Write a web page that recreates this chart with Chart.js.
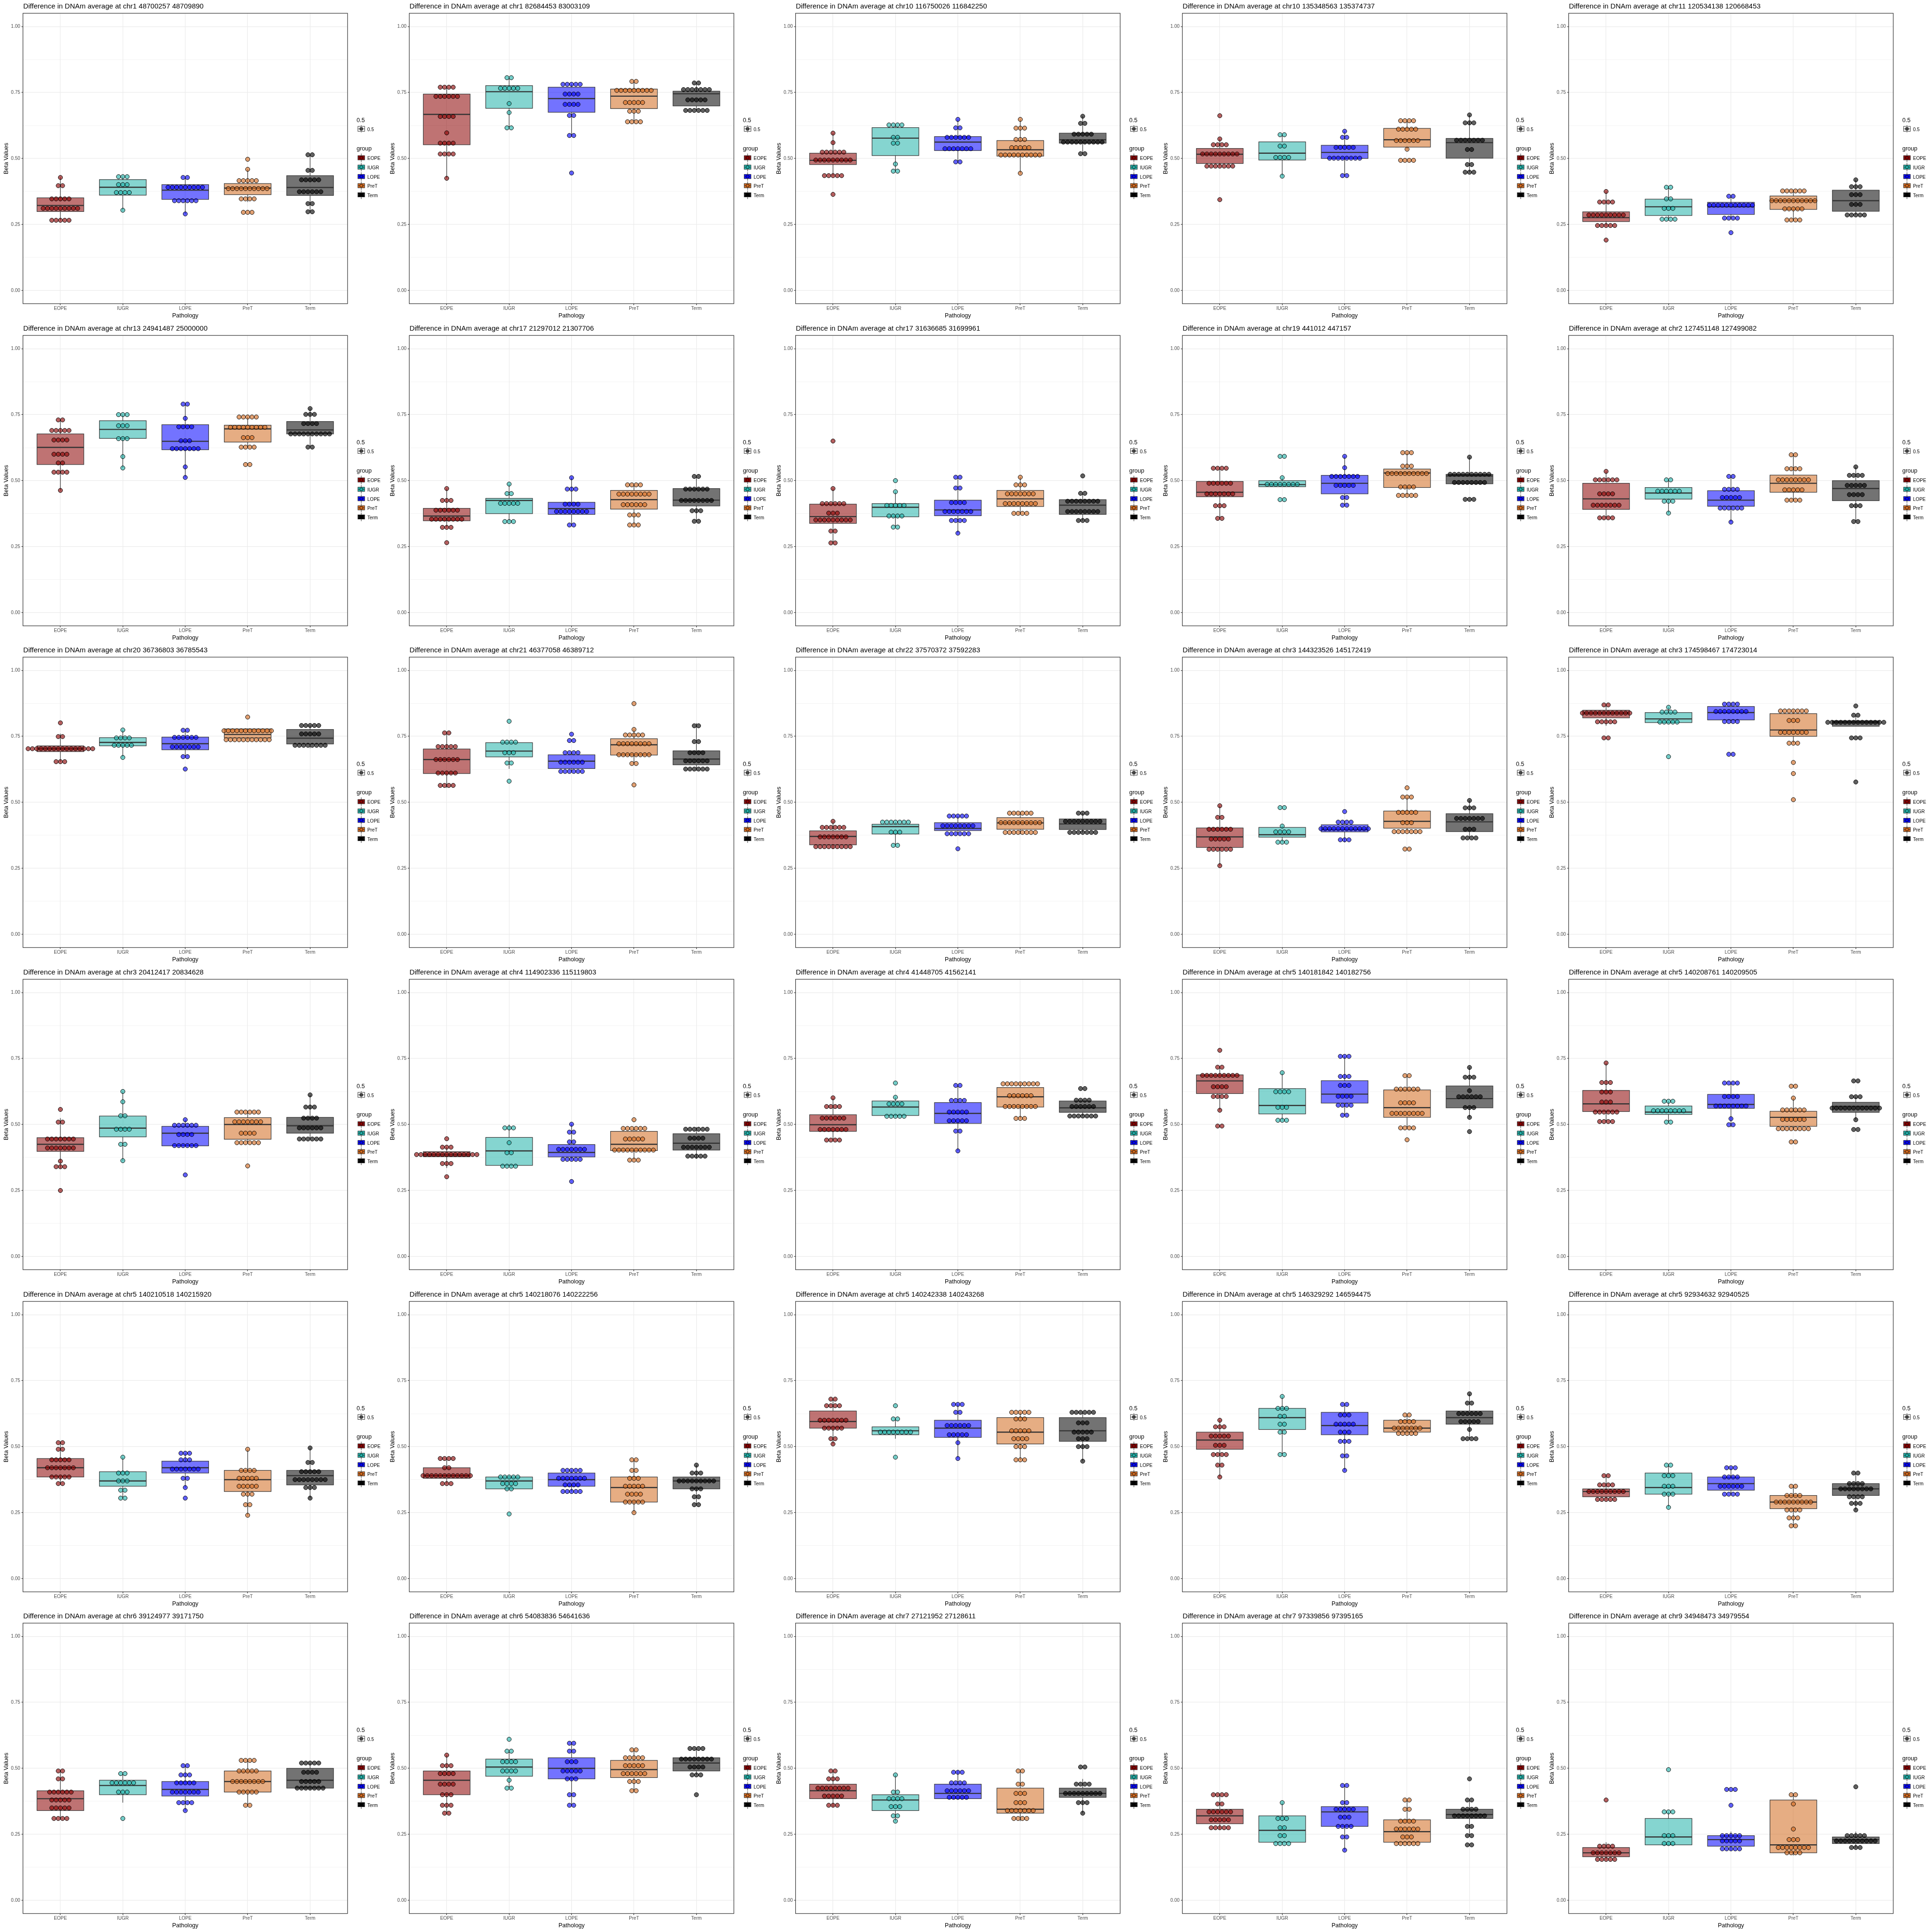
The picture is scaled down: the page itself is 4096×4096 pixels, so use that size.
<!DOCTYPE html>
<html><head><meta charset="utf-8">
<script src="https://cdn.jsdelivr.net/npm/chart.js@4.4.0/dist/chart.umd.min.js"></script>
<style>
html,body{margin:0;padding:0;background:#fff;}
#wrap{position:relative;width:4096px;height:4096px;overflow:hidden;background:#fff;}
canvas{position:absolute;}
</style></head><body><div id="wrap"></div>
<script>
const titles = [
"Difference in DNAm average at chr1 48700257 48709890",
"Difference in DNAm average at chr1 82684453 83003109",
"Difference in DNAm average at chr10 116750026 116842250",
"Difference in DNAm average at chr10 135348563 135374737",
"Difference in DNAm average at chr11 120534138 120668453",
"Difference in DNAm average at chr13 24941487 25000000",
"Difference in DNAm average at chr17 21297012 21307706",
"Difference in DNAm average at chr17 31636685 31699961",
"Difference in DNAm average at chr19 441012 447157",
"Difference in DNAm average at chr2 127451148 127499082",
"Difference in DNAm average at chr20 36736803 36785543",
"Difference in DNAm average at chr21 46377058 46389712",
"Difference in DNAm average at chr22 37570372 37592283",
"Difference in DNAm average at chr3 144323526 145172419",
"Difference in DNAm average at chr3 174598467 174723014",
"Difference in DNAm average at chr3 20412417 20834628",
"Difference in DNAm average at chr4 114902336 115119803",
"Difference in DNAm average at chr4 41448705 41562141",
"Difference in DNAm average at chr5 140181842 140182756",
"Difference in DNAm average at chr5 140208761 140209505",
"Difference in DNAm average at chr5 140210518 140215920",
"Difference in DNAm average at chr5 140218076 140222256",
"Difference in DNAm average at chr5 140242338 140243268",
"Difference in DNAm average at chr5 146329292 146594475",
"Difference in DNAm average at chr5 92934632 92940525",
"Difference in DNAm average at chr6 39124977 39171750",
"Difference in DNAm average at chr6 54083836 54641636",
"Difference in DNAm average at chr7 27121952 27128611",
"Difference in DNAm average at chr7 97339856 97395165",
"Difference in DNAm average at chr9 34948473 34979554"
];
const groups = ["EOPE","IUGR","LOPE","PreT","Term"];
const xTitle = "Pathology";
const yTitle = "Beta Values";
const alphaLegendTitle = "0.5";
const alphaLegendLabel = "0.5";
const groupLegendTitle = "group";
const yTickValues = [0,0.125,0.25,0.375,0.5,0.625,0.75,0.875,1];
const yTickLabels = ["0.00","","0.25","","0.50","","0.75","","1.00"];

// box statistics per panel: [lower whisker, Q1, median, Q3, upper whisker]
const boxEOPE = [
[0.266,0.299,0.322,0.351,0.428],[0.425,0.552,0.667,0.744,0.770],[0.435,0.477,0.493,0.520,0.596],[0.471,0.481,0.516,0.538,0.574],[0.246,0.261,0.276,0.298,0.375],
[0.463,0.561,0.626,0.677,0.730],[0.323,0.348,0.366,0.395,0.470],[0.264,0.338,0.364,0.411,0.470],[0.357,0.439,0.456,0.497,0.547],[0.359,0.391,0.431,0.490,0.535],
[0.654,0.692,0.703,0.714,0.760],[0.555,0.609,0.662,0.702,0.763],[0.325,0.339,0.371,0.392,0.428],[0.260,0.329,0.369,0.403,0.487],[0.790,0.820,0.838,0.849,0.869],
[0.335,0.398,0.425,0.450,0.524],[0.335,0.378,0.385,0.397,0.414],[0.440,0.474,0.499,0.537,0.600],[0.554,0.617,0.665,0.688,0.717],[0.511,0.549,0.578,0.629,0.733],
[0.360,0.385,0.420,0.455,0.515],[0.360,0.380,0.390,0.420,0.455],[0.510,0.570,0.595,0.635,0.680],[0.385,0.490,0.525,0.555,0.600],[0.300,0.310,0.330,0.340,0.390],
[0.310,0.340,0.385,0.415,0.490],[0.330,0.400,0.455,0.490,0.550],[0.355,0.385,0.415,0.440,0.490],[0.270,0.290,0.320,0.345,0.400],[0.155,0.165,0.180,0.200,0.220]];
const boxIUGR = [
[0.304,0.361,0.391,0.420,0.431],[0.616,0.690,0.753,0.776,0.806],[0.452,0.511,0.577,0.617,0.627],[0.433,0.494,0.520,0.563,0.590],[0.265,0.284,0.317,0.346,0.391],
[0.548,0.660,0.694,0.727,0.750],[0.345,0.375,0.425,0.433,0.487],[0.324,0.363,0.399,0.413,0.458],[0.477,0.477,0.485,0.500,0.511],[0.377,0.430,0.453,0.474,0.503],
[0.670,0.714,0.727,0.745,0.774],[0.627,0.672,0.694,0.726,0.728],[0.337,0.380,0.408,0.417,0.425],[0.349,0.368,0.377,0.405,0.410],[0.800,0.802,0.816,0.840,0.860],
[0.363,0.453,0.486,0.532,0.625],[0.340,0.345,0.400,0.451,0.500],[0.531,0.534,0.566,0.589,0.603],[0.516,0.540,0.572,0.636,0.696],[0.509,0.538,0.547,0.570,0.588],
[0.305,0.350,0.370,0.405,0.460],[0.340,0.340,0.370,0.385,0.390],[0.530,0.545,0.560,0.575,0.605],[0.470,0.565,0.610,0.645,0.690],[0.270,0.320,0.345,0.400,0.430],
[0.370,0.400,0.435,0.455,0.480],[0.425,0.470,0.505,0.535,0.565],[0.300,0.340,0.380,0.400,0.475],[0.215,0.220,0.265,0.320,0.370],[0.210,0.210,0.240,0.310,0.335]];
const boxLOPE = [
[0.290,0.345,0.380,0.401,0.428],[0.587,0.675,0.727,0.770,0.781],[0.487,0.530,0.562,0.583,0.648],[0.435,0.500,0.523,0.550,0.603],[0.274,0.288,0.317,0.334,0.357],
[0.512,0.617,0.649,0.712,0.790],[0.332,0.372,0.394,0.418,0.511],[0.301,0.367,0.389,0.426,0.513],[0.407,0.450,0.490,0.520,0.592],[0.343,0.403,0.426,0.462,0.516],
[0.673,0.699,0.722,0.747,0.773],[0.617,0.628,0.656,0.680,0.688],[0.381,0.393,0.401,0.423,0.448],[0.348,0.388,0.397,0.415,0.430],[0.800,0.812,0.840,0.863,0.872],
[0.419,0.419,0.467,0.493,0.518],[0.368,0.377,0.394,0.424,0.501],[0.400,0.504,0.542,0.583,0.648],[0.535,0.581,0.615,0.666,0.758],[0.490,0.561,0.576,0.614,0.657],
[0.345,0.400,0.420,0.445,0.475],[0.330,0.350,0.375,0.400,0.410],[0.455,0.535,0.570,0.600,0.660],[0.410,0.545,0.580,0.630,0.660],[0.320,0.335,0.360,0.385,0.420],
[0.340,0.395,0.420,0.450,0.510],[0.360,0.460,0.500,0.540,0.595],[0.385,0.385,0.405,0.440,0.490],[0.190,0.280,0.335,0.355,0.435],[0.190,0.205,0.230,0.245,0.260]];
const boxPreT = [
[0.335,0.363,0.388,0.405,0.459],[0.639,0.689,0.736,0.763,0.792],[0.444,0.509,0.533,0.568,0.648],[0.535,0.543,0.571,0.614,0.643],[0.267,0.307,0.340,0.358,0.377],
[0.627,0.646,0.696,0.710,0.741],[0.332,0.392,0.428,0.463,0.484],[0.376,0.402,0.431,0.463,0.513],[0.444,0.474,0.529,0.544,0.606],[0.426,0.456,0.490,0.521,0.598],
[0.737,0.744,0.757,0.778,0.780],[0.647,0.679,0.718,0.741,0.776],[0.380,0.398,0.422,0.442,0.460],[0.389,0.402,0.428,0.467,0.520],[0.724,0.750,0.774,0.836,0.846],
[0.431,0.444,0.500,0.526,0.547],[0.365,0.401,0.425,0.474,0.485],[0.523,0.566,0.605,0.640,0.660],[0.487,0.527,0.564,0.631,0.685],[0.484,0.493,0.527,0.550,0.600],
[0.240,0.330,0.375,0.410,0.490],[0.250,0.290,0.345,0.385,0.450],[0.450,0.510,0.555,0.610,0.630],[0.550,0.555,0.570,0.600,0.620],[0.200,0.265,0.290,0.315,0.350],
[0.360,0.410,0.450,0.490,0.530],[0.415,0.465,0.495,0.530,0.570],[0.300,0.330,0.345,0.425,0.490],[0.210,0.220,0.260,0.305,0.380],[0.170,0.180,0.210,0.380,0.400]];
const boxTerm = [
[0.298,0.360,0.390,0.435,0.514],[0.682,0.699,0.745,0.755,0.786],[0.518,0.558,0.571,0.596,0.660],[0.448,0.501,0.560,0.576,0.665],[0.286,0.300,0.340,0.380,0.419],
[0.627,0.677,0.692,0.724,0.773],[0.346,0.404,0.426,0.470,0.516],[0.349,0.372,0.407,0.428,0.452],[0.488,0.488,0.518,0.524,0.589],[0.345,0.424,0.470,0.500,0.552],
[0.705,0.721,0.743,0.776,0.791],[0.620,0.642,0.664,0.695,0.800],[0.386,0.397,0.418,0.437,0.459],[0.365,0.389,0.426,0.457,0.507],[0.788,0.788,0.804,0.809,0.830],
[0.445,0.467,0.495,0.527,0.612],[0.370,0.403,0.429,0.465,0.490],[0.532,0.546,0.563,0.589,0.592],[0.527,0.563,0.598,0.646,0.716],[0.518,0.546,0.569,0.584,0.605],
[0.305,0.355,0.390,0.410,0.495],[0.280,0.340,0.370,0.385,0.430],[0.445,0.520,0.560,0.610,0.630],[0.530,0.585,0.610,0.635,0.700],[0.260,0.315,0.340,0.360,0.400],
[0.420,0.425,0.455,0.500,0.520],[0.475,0.490,0.520,0.540,0.575],[0.330,0.390,0.405,0.425,0.460],[0.245,0.310,0.325,0.345,0.380],[0.200,0.215,0.230,0.240,0.260]];

// dot-plot stacks per panel: "value:count"
const dotsEOPE = [
"0.428:1 0.397:2 0.347:5 0.311:9 0.266:5","0.770:4 0.735:6 0.659:4 0.597:1 0.558:4 0.517:4 0.425:1","0.596:1 0.560:1 0.524:6 0.494:9 0.435:5 0.364:1","0.662:1 0.574:1 0.552:4 0.517:9 0.471:7 0.344:1","0.375:1 0.335:4 0.286:9 0.246:5 0.191:1",
"0.730:2 0.690:5 0.654:4 0.600:4 0.567:2 0.532:4 0.463:1","0.470:1 0.425:3 0.388:6 0.354:8 0.323:3 0.265:1","0.650:1 0.470:1 0.413:6 0.377:3 0.351:9 0.309:2 0.264:2","0.547:4 0.490:6 0.450:7 0.405:3 0.357:2","0.535:1 0.503:6 0.450:4 0.407:7 0.359:4",
"0.801:1 0.749:2 0.703:16 0.654:3","0.763:2 0.711:5 0.662:6 0.611:5 0.564:4","0.428:1 0.405:6 0.369:7 0.332:9","0.487:1 0.443:2 0.398:6 0.361:5 0.322:6 0.260:1","0.869:2 0.838:12 0.805:5 0.744:2",
"0.557:1 0.509:2 0.445:7 0.411:7 0.361:1 0.340:3 0.250:1","0.446:1 0.414:3 0.386:15 0.352:3 0.302:1","0.601:1 0.568:4 0.524:6 0.481:7 0.441:4","0.781:1 0.717:2 0.686:9 0.643:4 0.606:4 0.554:1 0.494:2","0.733:1 0.659:3 0.623:3 0.585:3 0.547:6 0.511:4",
"0.515:2 0.490:2 0.450:5 0.420:7 0.385:5 0.360:2","0.455:4 0.420:2 0.390:12 0.360:3","0.680:2 0.655:4 0.600:7 0.570:5 0.530:2 0.510:1","0.600:1 0.575:3 0.540:5 0.505:3 0.470:4 0.430:2 0.385:1","0.390:2 0.355:4 0.330:9 0.300:5",
"0.490:2 0.460:2 0.410:6 0.380:5 0.350:5 0.310:4","0.550:1 0.510:3 0.480:4 0.440:4 0.400:3 0.360:3 0.330:2","0.490:2 0.460:3 0.425:8 0.395:5 0.360:3","0.400:4 0.365:2 0.335:6 0.305:5 0.275:5","0.380:1 0.205:4 0.180:7 0.155:5"];
const dotsIUGR = [
"0.431:3 0.401:3 0.371:4 0.304:1","0.806:2 0.766:5 0.708:1 0.674:1 0.616:2","0.627:4 0.580:2 0.558:2 0.479:1 0.452:2","0.590:2 0.547:2 0.504:4 0.433:1","0.391:2 0.347:2 0.311:3 0.270:4",
"0.750:3 0.708:3 0.659:3 0.591:1 0.548:1","0.487:1 0.451:2 0.414:5 0.345:3","0.500:1 0.458:1 0.406:5 0.366:4 0.324:2","0.592:2 0.511:1 0.486:8 0.428:2","0.503:2 0.460:6 0.422:3 0.377:1",
"0.774:1 0.744:4 0.716:5 0.670:1","0.807:1 0.728:4 0.688:3 0.649:2 0.580:1","0.425:7 0.387:3 0.337:2","0.480:2 0.410:1 0.388:4 0.349:3","0.860:1 0.842:4 0.804:5 0.673:1",
"0.625:1 0.586:1 0.533:2 0.482:4 0.425:2 0.363:1","0.487:3 0.431:1 0.393:2 0.342:4","0.657:1 0.603:1 0.578:4 0.531:5","0.696:1 0.624:4 0.565:3 0.516:3","0.588:3 0.552:8 0.509:2",
"0.460:1 0.400:3 0.370:3 0.335:2 0.305:2","0.385:5 0.360:4 0.340:2 0.245:1","0.655:1 0.605:2 0.555:8 0.460:1","0.690:1 0.645:3 0.615:2 0.585:2 0.555:2 0.470:2","0.430:2 0.390:3 0.350:3 0.320:3 0.270:1",
"0.480:2 0.445:6 0.410:3 0.310:1","0.610:1 0.565:2 0.525:4 0.490:4 0.455:1 0.425:2","0.475:1 0.410:2 0.385:4 0.355:3 0.320:2 0.300:1","0.370:1 0.310:3 0.275:2 0.245:2 0.215:4","0.495:1 0.335:3 0.245:3 0.215:3"];
const dotsLOPE = [
"0.428:2 0.391:9 0.340:6 0.290:1","0.781:5 0.744:4 0.705:4 0.663:2 0.587:2 0.445:1","0.648:1 0.616:2 0.580:6 0.537:7 0.487:2","0.603:1 0.580:2 0.542:5 0.501:8 0.435:2","0.357:2 0.323:11 0.274:4 0.219:1",
"0.790:2 0.736:1 0.704:4 0.651:3 0.621:7 0.552:1 0.512:1","0.511:1 0.468:3 0.411:4 0.383:8 0.332:2","0.513:2 0.472:2 0.417:4 0.383:7 0.349:4 0.301:1","0.592:1 0.549:1 0.516:7 0.482:5 0.436:2 0.407:2","0.516:2 0.467:4 0.436:5 0.396:6 0.343:1",
"0.773:2 0.746:6 0.710:7 0.673:2 0.626:1","0.758:1 0.734:2 0.688:4 0.652:6 0.617:6","0.448:5 0.411:8 0.381:6 0.324:1","0.465:1 0.425:4 0.400:12 0.358:3","0.872:4 0.844:8 0.806:4 0.682:2",
"0.518:1 0.497:6 0.462:4 0.420:6 0.309:1","0.501:1 0.471:2 0.434:2 0.406:7 0.368:5 0.284:1","0.648:2 0.591:4 0.547:5 0.514:5 0.475:2 0.400:1","0.758:3 0.682:3 0.648:3 0.607:4 0.573:4 0.535:2","0.657:4 0.606:4 0.570:8 0.522:1 0.499:2",
"0.475:3 0.450:3 0.415:7 0.380:2 0.345:1 0.305:1","0.410:5 0.380:7 0.355:4 0.330:5","0.660:3 0.630:2 0.580:6 0.545:5 0.515:1 0.455:1","0.660:2 0.620:3 0.585:5 0.555:3 0.520:3 0.465:2 0.410:1","0.420:3 0.385:4 0.350:6 0.320:4",
"0.510:2 0.475:3 0.445:5 0.410:7 0.370:4 0.340:1","0.595:2 0.565:2 0.525:3 0.490:5 0.460:3 0.400:2 0.360:2","0.485:3 0.445:4 0.415:6 0.390:5","0.435:2 0.370:2 0.345:5 0.315:3 0.280:4 0.240:2 0.190:1","0.420:3 0.360:1 0.245:5 0.225:5 0.195:5"];
const dotsPreT = [
"0.497:1 0.459:1 0.416:5 0.386:10 0.347:4 0.296:3","0.792:2 0.758:9 0.712:5 0.679:3 0.639:4","0.648:1 0.615:3 0.572:3 0.541:5 0.513:10 0.444:1","0.643:4 0.611:5 0.568:6 0.535:1 0.493:4","0.377:6 0.340:11 0.309:5 0.267:4",
"0.741:5 0.702:9 0.663:3 0.627:4 0.561:2","0.484:4 0.449:8 0.409:6 0.370:3 0.332:3","0.513:1 0.484:3 0.450:7 0.413:8 0.376:4","0.606:3 0.555:3 0.527:10 0.476:4 0.444:5","0.598:2 0.545:4 0.503:8 0.465:5 0.426:4",
"0.823:1 0.771:12 0.737:11","0.874:1 0.776:1 0.755:5 0.722:8 0.680:8 0.647:2 0.566:1","0.459:6 0.423:10 0.386:8","0.555:1 0.520:3 0.462:5 0.423:3 0.389:7 0.323:2","0.846:7 0.810:3 0.765:7 0.724:3 0.651:1 0.609:1 0.510:1",
"0.547:6 0.510:7 0.467:4 0.431:6 0.343:1","0.518:1 0.485:6 0.445:5 0.403:10 0.365:3","0.654:9 0.609:6 0.568:8 0.523:3","0.685:2 0.634:6 0.582:4 0.542:8 0.487:4 0.442:1","0.645:2 0.600:1 0.555:6 0.519:6 0.484:8 0.434:2",
"0.490:1 0.410:4 0.380:5 0.350:5 0.320:3 0.280:2 0.240:1","0.450:2 0.410:2 0.380:3 0.350:5 0.320:4 0.290:5 0.250:1","0.630:5 0.605:3 0.560:5 0.530:4 0.500:3 0.450:3","0.620:2 0.595:4 0.570:7 0.550:5","0.350:2 0.315:4 0.290:9 0.260:4 0.230:3 0.200:2",
"0.530:4 0.490:5 0.450:8 0.410:5 0.360:2","0.570:2 0.540:5 0.510:5 0.480:6 0.450:3 0.415:2","0.490:2 0.440:2 0.405:3 0.370:3 0.340:7 0.310:4","0.380:2 0.345:2 0.300:4 0.270:6 0.240:3 0.215:6","0.400:2 0.365:1 0.270:1 0.230:3 0.200:8 0.180:4"];
const dotsTerm = [
"0.514:2 0.455:2 0.419:5 0.374:6 0.329:2 0.298:2","0.786:2 0.761:7 0.722:5 0.682:6","0.660:1 0.633:2 0.592:5 0.562:10 0.518:2","0.665:1 0.635:3 0.569:7 0.534:2 0.477:2 0.448:3","0.419:1 0.393:3 0.363:3 0.326:3 0.286:5",
"0.773:1 0.751:3 0.716:4 0.677:10 0.627:2","0.516:2 0.468:6 0.425:8 0.386:3 0.346:2","0.518:1 0.452:2 0.422:8 0.383:8 0.349:3","0.589:1 0.524:10 0.493:8 0.429:3","0.552:1 0.520:4 0.482:5 0.447:4 0.405:3 0.345:2",
"0.791:5 0.759:5 0.716:8","0.790:2 0.730:2 0.688:4 0.657:6 0.626:6","0.459:3 0.428:9 0.386:7","0.507:1 0.479:3 0.439:7 0.398:3 0.365:4","0.865:1 0.830:2 0.803:14 0.744:3 0.577:1",
"0.612:1 0.566:3 0.524:4 0.487:6 0.445:6","0.482:6 0.448:4 0.414:7 0.380:5","0.636:2 0.592:4 0.568:6 0.532:7","0.716:1 0.679:3 0.628:1 0.605:6 0.564:3 0.527:1 0.473:1","0.665:2 0.605:3 0.562:12 0.518:1 0.481:2",
"0.495:1 0.440:2 0.405:5 0.375:8 0.345:3 0.305:1","0.430:1 0.400:3 0.370:9 0.340:3 0.310:2 0.280:2","0.630:6 0.590:3 0.555:5 0.530:3 0.500:3 0.445:1","0.700:1 0.665:2 0.625:6 0.595:5 0.565:1 0.530:4","0.400:2 0.360:4 0.340:8 0.310:4 0.285:3 0.260:1",
"0.520:5 0.485:4 0.450:5 0.425:7","0.575:4 0.535:8 0.505:4 0.475:3 0.400:1","0.505:2 0.440:4 0.405:9 0.370:3 0.330:1","0.460:1 0.380:2 0.345:4 0.320:8 0.280:2 0.245:2 0.210:2","0.430:1 0.245:5 0.225:10 0.200:3"];

// ---------- styling ----------
const groupColors = ["#8B0000","#20B2AA","#0000FF","#D2691E","#000000"];
const FILL_ALPHA = 0.55;
const DOT_ALPHA = 0.62;
const FONT = '"Liberation Sans", Arial, sans-serif';
const CW = 820, CH = 683;
const CELL_W = 4096/5, CELL_H = 4096/6;
const AREA = {left:48.64, top:28.16, right:736.85, bottom:643.82};
const BOX_HALF = 0.375;
const DOT_STEP = 0.069;
const DOT_R = 4.55;
const LINE = 1.21;

const boxSets = [boxEOPE, boxIUGR, boxLOPE, boxPreT, boxTerm];
const dotSets = [dotsEOPE, dotsIUGR, dotsLOPE, dotsPreT, dotsTerm];

function rgba(hex, a){
  const n = parseInt(hex.slice(1),16);
  return `rgba(${(n>>16)&255},${(n>>8)&255},${n&255},${a})`;
}
function parseStacks(s){
  return s.trim().split(/\s+/).map(t => { const p = t.split(':'); return [parseFloat(p[0]), parseInt(p[1],10)]; });
}
function dotPoints(g, s){
  const pts = [];
  parseStacks(s).forEach(([v,n]) => {
    for (let i=0;i<n;i++) pts.push({x: (g+1) + (i-(n-1)/2)*DOT_STEP, y: v});
  });
  return pts;
}

const boxPlugin = {
  id: 'boxplot',
  beforeDatasetsDraw(chart, args, opts){
    const p = opts.panel;
    const {ctx, scales:{x, y}} = chart;
    ctx.save();
    for (let g=0; g<5; g++){
      const b = boxSets[g][p];
      const cx = x.getPixelForValue(g+1);
      const l = x.getPixelForValue(g+1-BOX_HALF), r = x.getPixelForValue(g+1+BOX_HALF);
      const yLo = y.getPixelForValue(b[0]), yQ1 = y.getPixelForValue(b[1]), yMed = y.getPixelForValue(b[2]),
            yQ3 = y.getPixelForValue(b[3]), yHi = y.getPixelForValue(b[4]);
      ctx.strokeStyle = '#333333';
      ctx.lineWidth = LINE;
      ctx.beginPath();
      ctx.moveTo(cx, yHi); ctx.lineTo(cx, yQ3);
      ctx.moveTo(cx, yQ1); ctx.lineTo(cx, yLo);
      ctx.stroke();
      ctx.fillStyle = rgba(groupColors[g], FILL_ALPHA);
      ctx.fillRect(l, yQ3, r-l, yQ1-yQ3);
      ctx.strokeRect(l, yQ3, r-l, yQ1-yQ3);
      ctx.lineWidth = LINE*2;
      ctx.beginPath(); ctx.moveTo(l, yMed); ctx.lineTo(r, yMed); ctx.stroke();
    }
    ctx.restore();
  },
  afterDatasetsDraw(chart){
    const {ctx, chartArea:a} = chart;
    ctx.save();
    ctx.strokeStyle = '#333333'; ctx.lineWidth = LINE;
    ctx.strokeRect(a.left, a.top, a.right-a.left, a.bottom-a.top);
    ctx.restore();
  },
  afterDraw(chart, args, opts){
    const p = opts.panel;
    const {ctx, chartArea:a} = chart;
    ctx.save();
    ctx.fillStyle = '#000';
    ctx.textAlign = 'left'; ctx.textBaseline = 'alphabetic';
    ctx.font = `15px ${FONT}`;
    ctx.fillText(titles[p], 49.2, 17.9);
    ctx.font = `12.5px ${FONT}`;
    ctx.textAlign = 'center';
    ctx.fillText(xTitle, (a.left+a.right)/2, 673.3);
    ctx.save();
    ctx.translate(16.8, (a.top+a.bottom)/2);
    ctx.rotate(-Math.PI/2);
    ctx.fillText(yTitle, 0, 0);
    ctx.restore();
    ctx.textAlign = 'left';
    ctx.font = `12.5px ${FONT}`;
    ctx.fillText(alphaLegendTitle, 756.0, 258.8);
    const kx0 = 758.8, kx1 = 773.1, kc = (kx0+kx1)/2;
    ctx.strokeStyle = '#333333'; ctx.lineWidth = 1.0;
    ctx.beginPath(); ctx.moveTo(kc, 265.4); ctx.lineTo(kc, 267.9); ctx.moveTo(kc, 278.4); ctx.lineTo(kc, 280.7); ctx.stroke();
    ctx.fillStyle = '#fff';
    ctx.fillRect(kx0, 267.9, kx1-kx0, 10.5);
    ctx.strokeRect(kx0, 267.9, kx1-kx0, 10.5);
    ctx.beginPath(); ctx.moveTo(kx0, 273.2); ctx.lineTo(kx1, 273.2); ctx.stroke();
    ctx.beginPath(); ctx.arc(kc, 273.2, 3.4, 0, Math.PI*2);
    ctx.fillStyle = 'rgba(51,51,51,0.85)'; ctx.fill();
    ctx.strokeStyle = '#000'; ctx.lineWidth = 0.8; ctx.stroke();
    ctx.fillStyle = '#000';
    ctx.font = `10px ${FONT}`;
    ctx.fillText(alphaLegendLabel, 778.8, 277.9);
    ctx.font = `12.5px ${FONT}`;
    ctx.fillText(groupLegendTitle, 756.0, 318.7);
    const centers = [334.5, 354.4, 374.3, 393.6, 413.0];
    ctx.font = `10px ${FONT}`;
    for (let g=0; g<5; g++){
      const c = centers[g];
      ctx.strokeStyle = '#333333'; ctx.lineWidth = 1.0;
      ctx.beginPath(); ctx.moveTo(kc, c-9.0); ctx.lineTo(kc, c+9.0); ctx.stroke();
      ctx.fillStyle = groupColors[g];
      ctx.fillRect(kx0, c-4.55, kx1-kx0, 9.1);
      ctx.strokeRect(kx0, c-4.55, kx1-kx0, 9.1);
      ctx.beginPath(); ctx.moveTo(kx0, c); ctx.lineTo(kx1, c); ctx.stroke();
      ctx.beginPath(); ctx.arc(kc, c, 3.2, 0, Math.PI*2);
      ctx.fillStyle = groupColors[g]; ctx.fill();
      ctx.strokeStyle = '#000'; ctx.lineWidth = 0.8; ctx.stroke();
      ctx.fillStyle = '#000';
      ctx.fillText(groups[g], 778.8, c+4.5);
    }
    ctx.restore();
  }
};

Chart.defaults.font.family = FONT;
const wrap = document.getElementById('wrap');
for (let p=0; p<30; p++){
  const row = Math.floor(p/5), col = p%5;
  const cv = document.createElement('canvas');
  cv.width = CW; cv.height = CH;
  cv.style.width = CW+'px'; cv.style.height = CH+'px';
  cv.style.left = Math.round(col*CELL_W)+'px';
  cv.style.top = Math.round(row*CELL_H)+'px';
  wrap.appendChild(cv);
  const datasets = groups.map((name, g) => ({
    label: name,
    data: dotPoints(g, dotSets[g][p]),
    pointRadius: DOT_R,
    pointHoverRadius: DOT_R,
    pointBackgroundColor: rgba(groupColors[g], DOT_ALPHA),
    pointBorderColor: '#000000',
    pointBorderWidth: 1.0,
    showLine: false
  }));
  new Chart(cv, {
    type: 'scatter',
    data: {datasets},
    plugins: [boxPlugin],
    options: {
      responsive: false, animation: false, devicePixelRatio: 1, events: [],
      layout: {padding: {left: 0, top: AREA.top, right: CW-AREA.right, bottom: 0}},
      plugins: {legend: {display:false}, tooltip: {enabled:false}, title: {display:false}, boxplot: {panel: p}},
      scales: {
        x: {
          type: 'linear', min: 0.4, max: 5.6, bounds: 'data',
          afterBuildTicks: s => { s.ticks = groups.map((_, i) => ({value: i+1})); },
          afterFit: s => { s.height = CH - AREA.bottom; },
          ticks: {callback: (v) => groups[Math.round(v)-1] || '', font: {size: 10}, color: '#4D4D4D', padding: 1.5, maxRotation: 0, autoSkip: false},
          grid: {color: '#EBEBEB', lineWidth: LINE, tickLength: 3.13, tickColor: '#333333', tickWidth: LINE, drawTicks: true},
          border: {display: false}
        },
        y: {
          type: 'linear', min: -0.05, max: 1.05, bounds: 'data',
          afterBuildTicks: s => { s.ticks = yTickValues.map(v => ({value: v})); },
          afterFit: s => { s.width = AREA.left; },
          ticks: {callback: (v, i) => yTickLabels[i], font: {size: 10}, color: '#4D4D4D', padding: 2.7, autoSkip: false},
          grid: {
            color: '#EBEBEB',
            lineWidth: ctx => (ctx.index % 2 === 1 ? LINE/2 : LINE),
            tickLength: 3.13,
            tickColor: ctx => (ctx.index % 2 === 1 ? 'rgba(0,0,0,0)' : '#333333'),
            tickWidth: LINE, drawTicks: true
          },
          border: {display: false}
        }
      }
    }
  });
}
</script>
</body></html>
